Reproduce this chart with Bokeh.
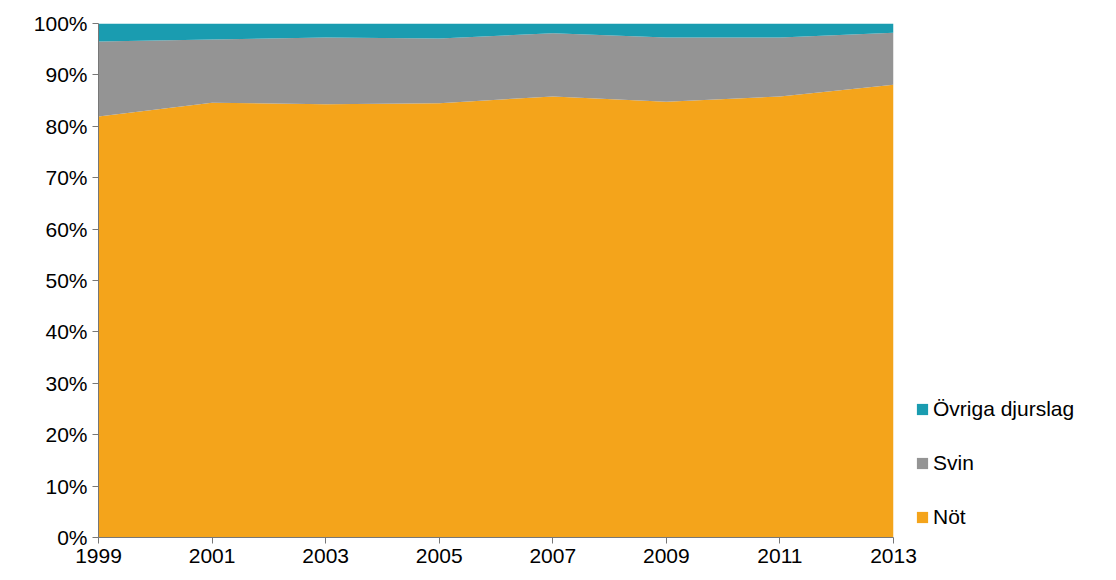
from bokeh.plotting import figure
from bokeh.models import Legend, LegendItem, NumeralTickFormatter, FixedTicker
from bokeh.embed import file_html
from bokeh.resources import INLINE

years = [1999, 2001, 2003, 2005, 2007, 2009, 2011, 2013]
not_ = [81.9, 84.6, 84.3, 84.5, 85.8, 84.8, 85.8, 88.1]
svin_top = [96.5, 96.9, 97.3, 97.1, 98.1, 97.3, 97.3, 98.2]
svin = [s - n for s, n in zip(svin_top, not_)]
ovriga = [100 - s for s in svin_top]

p = figure(frame_width=795, frame_height=514, output_backend="svg", toolbar_location=None,
           x_range=(1999, 2013), y_range=(0, 1),
           min_border_left=98, min_border_right=0, min_border_top=23, min_border_bottom=30)
src = dict(x=years, a=[v/100 for v in not_], b=[v/100 for v in svin], c=[v/100 for v in ovriga])
r = p.varea_stack(["a", "b", "c"], x="x", source=src,
                  color=["#F4A41B", "#949494", "#1A9CB0"])
p.xgrid.visible = False
p.ygrid.visible = False
p.outline_line_color = None
p.xaxis.ticker = FixedTicker(ticks=years)
p.yaxis.ticker = FixedTicker(ticks=[i/10 for i in range(11)])
p.yaxis.formatter = NumeralTickFormatter(format="0%")
for ax in (p.xaxis[0], p.yaxis[0]):
    ax.major_label_text_font = "Liberation Sans"
    ax.major_label_text_font_size = "21px"
    ax.major_label_text_color = "black"
    ax.axis_line_color = "#777777"
    ax.major_tick_line_color = "#777777"
    ax.minor_tick_line_color = None
    ax.major_tick_in = 0
    ax.major_tick_out = 6
leg = Legend(items=[LegendItem(label="Övriga djurslag", renderers=[r[2]]),
                    LegendItem(label="Svin", renderers=[r[1]]),
                    LegendItem(label="Nöt", renderers=[r[0]])],
             location=(22, 8), label_text_font="Liberation Sans", label_text_font_size="21px",
             label_text_color="black",
             border_line_color=None, background_fill_alpha=0, glyph_width=14, glyph_height=14,
             spacing=30, padding=0, margin=0, label_standoff=4)
p.add_layout(leg, "right")
open("out.html", "w").write(file_html(p, INLINE))
